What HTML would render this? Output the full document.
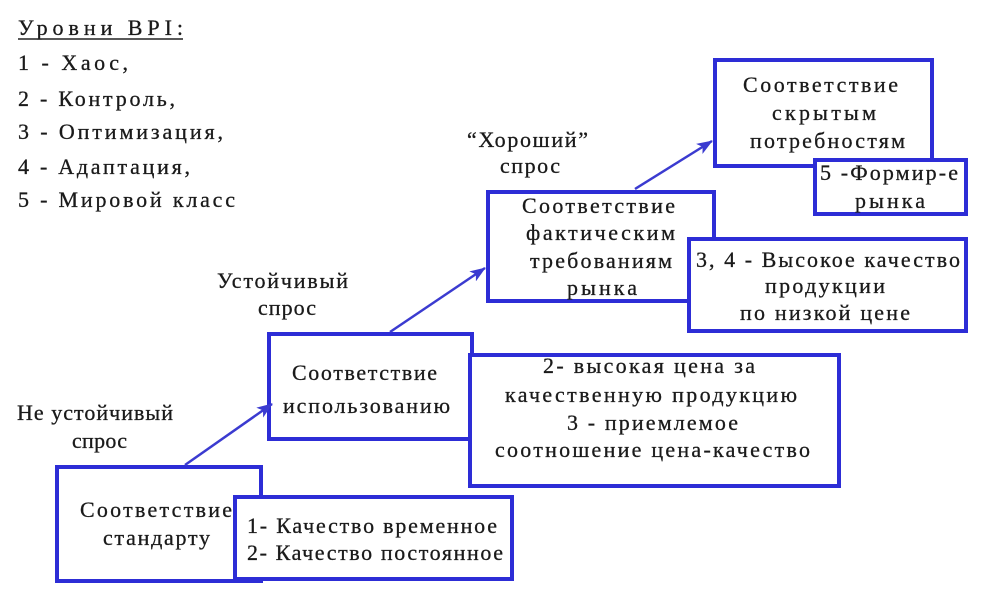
<!DOCTYPE html>
<html><head><meta charset="utf-8"><style>
html,body{margin:0;padding:0;background:#fff;}
svg text{font-family:"Liberation Serif","DejaVu Serif",serif;font-size:22px;fill:#1a1a1a;stroke:#1a1a1a;stroke-width:0.3;}
</style></head><body>
<svg width="981" height="590" viewBox="0 0 981 590" xmlns="http://www.w3.org/2000/svg">
<defs><marker id="ah" markerWidth="16" markerHeight="12" refX="15" refY="6" orient="auto" markerUnits="userSpaceOnUse"><path d="M0,0 L16,6 L0,12 L4,6 Z" fill="#3b3bd0"/></marker></defs>
<g fill="#fff" stroke="#2d2dd6" stroke-width="4">
<rect x="57" y="467" width="204" height="114"/>
<rect x="269" y="334" width="203" height="105"/>
<rect x="488" y="192" width="226" height="109"/>
<rect x="715" y="60" width="217" height="106"/>
<rect x="235" y="497" width="277" height="82"/>
<rect x="470" y="355" width="369" height="131"/>
<rect x="689" y="239" width="277" height="92"/>
<rect x="815" y="160" width="151" height="54"/>
</g>
<g stroke="#3b3bd0" stroke-width="2.5" marker-end="url(#ah)">
<line x1="185" y1="465" x2="272" y2="404"/>
<line x1="390" y1="332" x2="485" y2="268"/>
<line x1="635" y1="189" x2="712" y2="141"/>
</g>
<g lengthAdjust="spacingAndGlyphs">
<text x="18" y="35" textLength="165">Уровни ВРI:</text>
<line x1="18" y1="39" x2="183" y2="39" stroke="#222" stroke-width="1.5"/>
<text x="18" y="70" textLength="110">1 - Хаос,</text>
<text x="18" y="106" textLength="157">2 - Контроль,</text>
<text x="18" y="139" textLength="205">3 - Оптимизация,</text>
<text x="18" y="174" textLength="172">4 - Адаптация,</text>
<text x="18" y="207" textLength="217">5 - Мировой класс</text>

<text x="217" y="288" textLength="131">Устойчивый</text>
<text x="258" y="315" textLength="58">спрос</text>
<text x="17" y="420" textLength="156">Не устойчивый</text>
<text x="72" y="448" textLength="55">спрос</text>
<text x="467" y="147" textLength="121">“Хороший”</text>
<text x="500" y="173" textLength="60">спрос</text>

<text x="80" y="517" textLength="152">Соответствие</text>
<text x="103" y="545" textLength="107">стандарту</text>
<text x="247" y="533" textLength="250">1- Качество временное</text>
<text x="247" y="560" textLength="256">2- Качество постоянное</text>

<text x="292" y="380" textLength="145">Соответствие</text>
<text x="283" y="413" textLength="167">использованию</text>
<text x="543" y="373" textLength="212">2- высокая цена за</text>
<text x="505" y="402" textLength="292">качественную продукцию</text>
<text x="567" y="430" textLength="171">3 - приемлемое</text>
<text x="495" y="457" textLength="315">соотношение цена-качество</text>

<text x="522" y="213" textLength="153">Соответствие</text>
<text x="526" y="240" textLength="149">фактическим</text>
<text x="530" y="268" textLength="142">требованиям</text>
<text x="567" y="295" textLength="70">рынка</text>
<text x="696" y="267" textLength="264">3, 4 - Высокое качество</text>
<text x="765" y="293" textLength="120">продукции</text>
<text x="740" y="320" textLength="170">по низкой цене</text>

<text x="743" y="92" textLength="155">Соответствие</text>
<text x="772" y="120" textLength="104">скрытым</text>
<text x="750" y="148" textLength="155">потребностям</text>
<text x="820" y="180" textLength="138">5 -Формир-е</text>
<text x="855" y="208" textLength="70">рынка</text>
</g>
</svg>
</body></html>
